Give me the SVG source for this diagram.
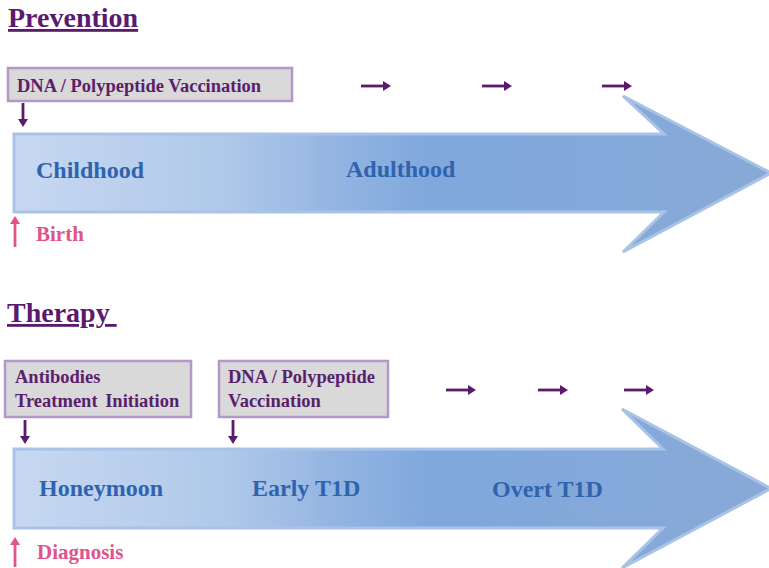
<svg xmlns="http://www.w3.org/2000/svg" width="769" height="568" viewBox="0 0 769 568">
  <defs>
    <linearGradient id="shaftFill" gradientUnits="userSpaceOnUse" x1="13" y1="0" x2="770" y2="0">
      <stop offset="0" stop-color="#c7d8f1"/>
      <stop offset="0.28" stop-color="#b0c9ea"/>
      <stop offset="0.42" stop-color="#94b5e2"/>
      <stop offset="0.55" stop-color="#80a8dd"/>
      <stop offset="1" stop-color="#87a9d6"/>
    </linearGradient>
    <!-- arrow heads pointing along +x, tip at origin -->
    <path id="headR" d="M-8,-5 L0,0 L-8,5 Z"/>
  </defs>
  <style>
    text { font-family: "Liberation Serif", "Times New Roman", serif; font-weight: bold; }
    .title { font-size: 28px; fill: #5c1a6e; text-decoration: underline; }
    .box rect { fill: #d9d9d9; stroke: #b497c6; stroke-width: 2.5; }
    .box text { font-size: 18.5px; fill: #5a1f6c; }
    .phase { font-size: 24px; fill: #2f63ae; }
    .event { font-size: 21px; fill: #e0538c; }
    .band polygon { fill: url(#shaftFill); stroke: #a9c3e7; stroke-width: 3; stroke-linejoin: miter; }
    .step line { stroke: #5c1a6e; stroke-width: 2.8; }
    .step use { fill: #5c1a6e; }
    .mark line { stroke: #e0538c; stroke-width: 2.8; }
    .mark use { fill: #e0538c; }
  </style>

  <!-- Prevention timeline -->
  <text class="title" x="8" y="27">Prevention</text>
  <g id="prevention-band" class="band">
    <polygon points="14,134 664,134 623,96 771,173 623,252 664,212 14,212"/>
  </g>
  <g id="childhood"><text class="phase" x="36" y="178">Childhood</text></g>
  <g id="adulthood"><text class="phase" x="346" y="177">Adulthood</text></g>
  <g id="prevention-vaccination" class="box">
    <rect x="8" y="68" width="284" height="33"/>
    <text x="17" y="92">DNA / Polypeptide Vaccination</text>
  </g>
  <g id="birth"><text class="event" x="36" y="241">Birth</text></g>

  <!-- Therapy timeline -->
  <text class="title" x="7" y="322" xml:space="preserve">Therapy </text>
  <g id="therapy-band" class="band">
    <polygon points="14,449 663,449 622,409 771,488.5 622,568 663,528 14,528"/>
  </g>
  <g id="honeymoon"><text class="phase" x="39" y="496">Honeymoon</text></g>
  <g id="early-t1d"><text class="phase" x="252" y="496">Early T1D</text></g>
  <g id="overt-t1d"><text class="phase" x="492" y="497">Overt T1D</text></g>
  <g id="antibodies" class="box">
    <rect x="5" y="361" width="186" height="56"/>
    <text x="15" y="383">Antibodies</text>
    <text x="15" y="407" word-spacing="3">Treatment Initiation</text>
  </g>
  <g id="therapy-vaccination" class="box">
    <rect x="219" y="361" width="169" height="56"/>
    <text x="228" y="383">DNA / Polypeptide</text>
    <text x="228" y="407">Vaccination</text>
  </g>
  <g id="diagnosis"><text class="event" x="37" y="559">Diagnosis</text></g>

  <!-- Connectors: short arrows, each a line plus a filled head -->
  <g id="connectors">
    <g class="step">
      <line x1="23" y1="103" x2="23" y2="120"/>
      <use href="#headR" transform="translate(23,127) rotate(90)"/>

      <line x1="361" y1="86" x2="383" y2="86"/>
      <use href="#headR" transform="translate(391,86)"/>
      <line x1="482" y1="86" x2="504" y2="86"/>
      <use href="#headR" transform="translate(512,86)"/>
      <line x1="602" y1="86" x2="624" y2="86"/>
      <use href="#headR" transform="translate(632,86)"/>

      <line x1="25" y1="420" x2="25" y2="437"/>
      <use href="#headR" transform="translate(25,444) rotate(90)"/>
      <line x1="233" y1="420" x2="233" y2="437"/>
      <use href="#headR" transform="translate(233,444) rotate(90)"/>

      <line x1="446" y1="390" x2="468" y2="390"/>
      <use href="#headR" transform="translate(476,390)"/>
      <line x1="538" y1="390" x2="560" y2="390"/>
      <use href="#headR" transform="translate(568,390)"/>
      <line x1="624" y1="390" x2="646" y2="390"/>
      <use href="#headR" transform="translate(654,390)"/>
    </g>
    <g class="mark">
      <line x1="15" y1="247" x2="15" y2="223"/>
      <use href="#headR" transform="translate(15,216) rotate(-90)"/>
      <line x1="15" y1="567" x2="15" y2="544"/>
      <use href="#headR" transform="translate(15,537) rotate(-90)"/>
    </g>
  </g>
</svg>
